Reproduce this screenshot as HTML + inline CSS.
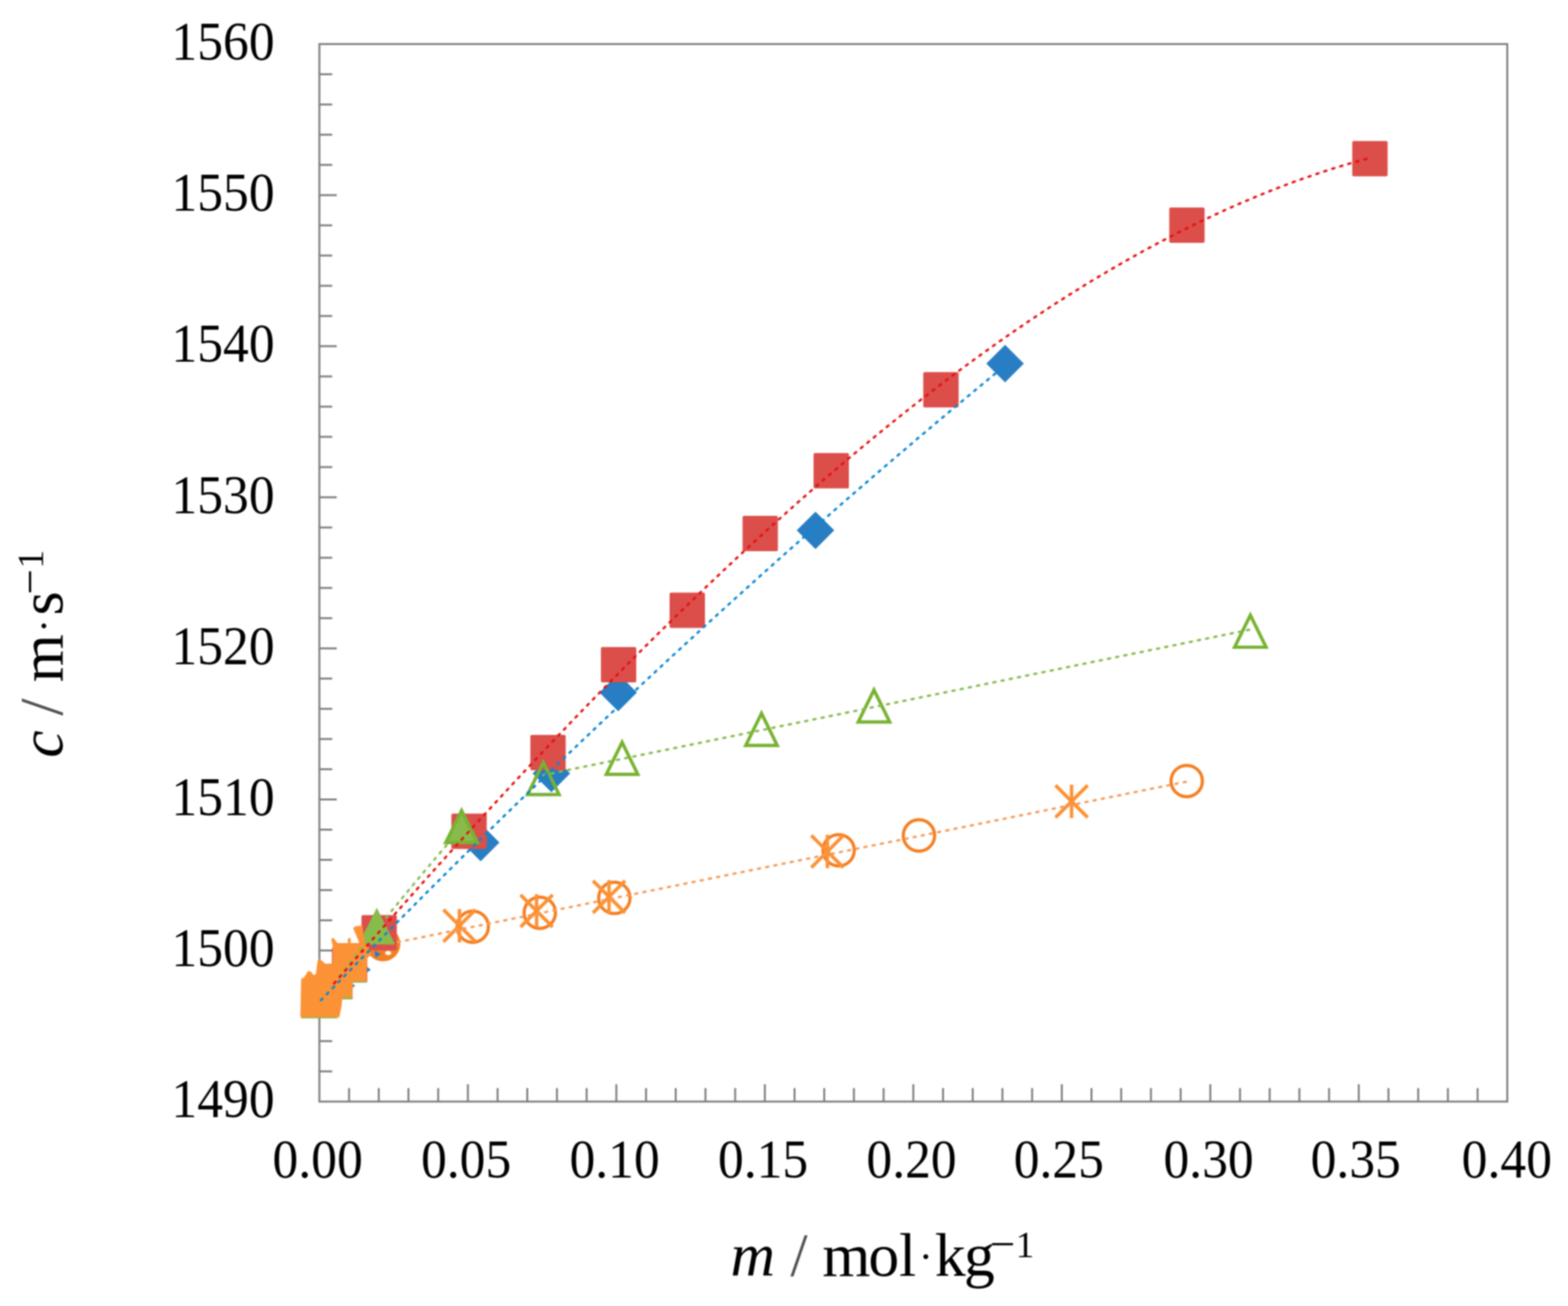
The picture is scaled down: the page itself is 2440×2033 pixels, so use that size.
<!DOCTYPE html>
<html><head><meta charset="utf-8"><style>
html,body{margin:0;padding:0;background:#fff;overflow:hidden;}
svg{display:block;filter:blur(0.8px);}
.lab{font-family:"Liberation Serif","Times New Roman",serif;font-size:84px;fill:#000;}
.tit{font-family:"Liberation Serif","Times New Roman",serif;font-size:96px;fill:#000;}
</style></head><body>
<svg width="2440" height="2033" viewBox="0 0 2440 2033">
<rect x="497.0" y="68.6" width="1848.5" height="1646.2" fill="none" stroke="#7e7e7e" stroke-width="3"/>
<line x1="497.0" y1="1667.8" x2="517.0" y2="1667.8" stroke="#7e7e7e" stroke-width="3"/>
<line x1="497.0" y1="1620.7" x2="517.0" y2="1620.7" stroke="#7e7e7e" stroke-width="3"/>
<line x1="497.0" y1="1573.7" x2="517.0" y2="1573.7" stroke="#7e7e7e" stroke-width="3"/>
<line x1="497.0" y1="1526.7" x2="517.0" y2="1526.7" stroke="#7e7e7e" stroke-width="3"/>
<line x1="497.0" y1="1479.6" x2="524.0" y2="1479.6" stroke="#7e7e7e" stroke-width="3"/>
<line x1="497.0" y1="1432.6" x2="517.0" y2="1432.6" stroke="#7e7e7e" stroke-width="3"/>
<line x1="497.0" y1="1385.6" x2="517.0" y2="1385.6" stroke="#7e7e7e" stroke-width="3"/>
<line x1="497.0" y1="1338.5" x2="517.0" y2="1338.5" stroke="#7e7e7e" stroke-width="3"/>
<line x1="497.0" y1="1291.5" x2="517.0" y2="1291.5" stroke="#7e7e7e" stroke-width="3"/>
<line x1="497.0" y1="1244.5" x2="524.0" y2="1244.5" stroke="#7e7e7e" stroke-width="3"/>
<line x1="497.0" y1="1197.4" x2="517.0" y2="1197.4" stroke="#7e7e7e" stroke-width="3"/>
<line x1="497.0" y1="1150.4" x2="517.0" y2="1150.4" stroke="#7e7e7e" stroke-width="3"/>
<line x1="497.0" y1="1103.4" x2="517.0" y2="1103.4" stroke="#7e7e7e" stroke-width="3"/>
<line x1="497.0" y1="1056.3" x2="517.0" y2="1056.3" stroke="#7e7e7e" stroke-width="3"/>
<line x1="497.0" y1="1009.3" x2="524.0" y2="1009.3" stroke="#7e7e7e" stroke-width="3"/>
<line x1="497.0" y1="962.3" x2="517.0" y2="962.3" stroke="#7e7e7e" stroke-width="3"/>
<line x1="497.0" y1="915.2" x2="517.0" y2="915.2" stroke="#7e7e7e" stroke-width="3"/>
<line x1="497.0" y1="868.2" x2="517.0" y2="868.2" stroke="#7e7e7e" stroke-width="3"/>
<line x1="497.0" y1="821.1" x2="517.0" y2="821.1" stroke="#7e7e7e" stroke-width="3"/>
<line x1="497.0" y1="774.1" x2="524.0" y2="774.1" stroke="#7e7e7e" stroke-width="3"/>
<line x1="497.0" y1="727.1" x2="517.0" y2="727.1" stroke="#7e7e7e" stroke-width="3"/>
<line x1="497.0" y1="680.0" x2="517.0" y2="680.0" stroke="#7e7e7e" stroke-width="3"/>
<line x1="497.0" y1="633.0" x2="517.0" y2="633.0" stroke="#7e7e7e" stroke-width="3"/>
<line x1="497.0" y1="586.0" x2="517.0" y2="586.0" stroke="#7e7e7e" stroke-width="3"/>
<line x1="497.0" y1="538.9" x2="524.0" y2="538.9" stroke="#7e7e7e" stroke-width="3"/>
<line x1="497.0" y1="491.9" x2="517.0" y2="491.9" stroke="#7e7e7e" stroke-width="3"/>
<line x1="497.0" y1="444.9" x2="517.0" y2="444.9" stroke="#7e7e7e" stroke-width="3"/>
<line x1="497.0" y1="397.8" x2="517.0" y2="397.8" stroke="#7e7e7e" stroke-width="3"/>
<line x1="497.0" y1="350.8" x2="517.0" y2="350.8" stroke="#7e7e7e" stroke-width="3"/>
<line x1="497.0" y1="303.8" x2="524.0" y2="303.8" stroke="#7e7e7e" stroke-width="3"/>
<line x1="497.0" y1="256.7" x2="517.0" y2="256.7" stroke="#7e7e7e" stroke-width="3"/>
<line x1="497.0" y1="209.7" x2="517.0" y2="209.7" stroke="#7e7e7e" stroke-width="3"/>
<line x1="497.0" y1="162.7" x2="517.0" y2="162.7" stroke="#7e7e7e" stroke-width="3"/>
<line x1="497.0" y1="115.6" x2="517.0" y2="115.6" stroke="#7e7e7e" stroke-width="3"/>
<line x1="543.2" y1="1714.8" x2="543.2" y2="1693.8" stroke="#7e7e7e" stroke-width="3"/>
<line x1="589.4" y1="1714.8" x2="589.4" y2="1693.8" stroke="#7e7e7e" stroke-width="3"/>
<line x1="635.6" y1="1714.8" x2="635.6" y2="1693.8" stroke="#7e7e7e" stroke-width="3"/>
<line x1="681.9" y1="1714.8" x2="681.9" y2="1693.8" stroke="#7e7e7e" stroke-width="3"/>
<line x1="728.1" y1="1714.8" x2="728.1" y2="1687.8" stroke="#7e7e7e" stroke-width="3"/>
<line x1="774.3" y1="1714.8" x2="774.3" y2="1693.8" stroke="#7e7e7e" stroke-width="3"/>
<line x1="820.5" y1="1714.8" x2="820.5" y2="1693.8" stroke="#7e7e7e" stroke-width="3"/>
<line x1="866.7" y1="1714.8" x2="866.7" y2="1693.8" stroke="#7e7e7e" stroke-width="3"/>
<line x1="912.9" y1="1714.8" x2="912.9" y2="1693.8" stroke="#7e7e7e" stroke-width="3"/>
<line x1="959.1" y1="1714.8" x2="959.1" y2="1687.8" stroke="#7e7e7e" stroke-width="3"/>
<line x1="1005.3" y1="1714.8" x2="1005.3" y2="1693.8" stroke="#7e7e7e" stroke-width="3"/>
<line x1="1051.5" y1="1714.8" x2="1051.5" y2="1693.8" stroke="#7e7e7e" stroke-width="3"/>
<line x1="1097.8" y1="1714.8" x2="1097.8" y2="1693.8" stroke="#7e7e7e" stroke-width="3"/>
<line x1="1144.0" y1="1714.8" x2="1144.0" y2="1693.8" stroke="#7e7e7e" stroke-width="3"/>
<line x1="1190.2" y1="1714.8" x2="1190.2" y2="1687.8" stroke="#7e7e7e" stroke-width="3"/>
<line x1="1236.4" y1="1714.8" x2="1236.4" y2="1693.8" stroke="#7e7e7e" stroke-width="3"/>
<line x1="1282.6" y1="1714.8" x2="1282.6" y2="1693.8" stroke="#7e7e7e" stroke-width="3"/>
<line x1="1328.8" y1="1714.8" x2="1328.8" y2="1693.8" stroke="#7e7e7e" stroke-width="3"/>
<line x1="1375.0" y1="1714.8" x2="1375.0" y2="1693.8" stroke="#7e7e7e" stroke-width="3"/>
<line x1="1421.2" y1="1714.8" x2="1421.2" y2="1687.8" stroke="#7e7e7e" stroke-width="3"/>
<line x1="1467.5" y1="1714.8" x2="1467.5" y2="1693.8" stroke="#7e7e7e" stroke-width="3"/>
<line x1="1513.7" y1="1714.8" x2="1513.7" y2="1693.8" stroke="#7e7e7e" stroke-width="3"/>
<line x1="1559.9" y1="1714.8" x2="1559.9" y2="1693.8" stroke="#7e7e7e" stroke-width="3"/>
<line x1="1606.1" y1="1714.8" x2="1606.1" y2="1693.8" stroke="#7e7e7e" stroke-width="3"/>
<line x1="1652.3" y1="1714.8" x2="1652.3" y2="1687.8" stroke="#7e7e7e" stroke-width="3"/>
<line x1="1698.5" y1="1714.8" x2="1698.5" y2="1693.8" stroke="#7e7e7e" stroke-width="3"/>
<line x1="1744.7" y1="1714.8" x2="1744.7" y2="1693.8" stroke="#7e7e7e" stroke-width="3"/>
<line x1="1791.0" y1="1714.8" x2="1791.0" y2="1693.8" stroke="#7e7e7e" stroke-width="3"/>
<line x1="1837.2" y1="1714.8" x2="1837.2" y2="1693.8" stroke="#7e7e7e" stroke-width="3"/>
<line x1="1883.4" y1="1714.8" x2="1883.4" y2="1687.8" stroke="#7e7e7e" stroke-width="3"/>
<line x1="1929.6" y1="1714.8" x2="1929.6" y2="1693.8" stroke="#7e7e7e" stroke-width="3"/>
<line x1="1975.8" y1="1714.8" x2="1975.8" y2="1693.8" stroke="#7e7e7e" stroke-width="3"/>
<line x1="2022.0" y1="1714.8" x2="2022.0" y2="1693.8" stroke="#7e7e7e" stroke-width="3"/>
<line x1="2068.2" y1="1714.8" x2="2068.2" y2="1693.8" stroke="#7e7e7e" stroke-width="3"/>
<line x1="2114.4" y1="1714.8" x2="2114.4" y2="1687.8" stroke="#7e7e7e" stroke-width="3"/>
<line x1="2160.6" y1="1714.8" x2="2160.6" y2="1693.8" stroke="#7e7e7e" stroke-width="3"/>
<line x1="2206.9" y1="1714.8" x2="2206.9" y2="1693.8" stroke="#7e7e7e" stroke-width="3"/>
<line x1="2253.1" y1="1714.8" x2="2253.1" y2="1693.8" stroke="#7e7e7e" stroke-width="3"/>
<line x1="2299.3" y1="1714.8" x2="2299.3" y2="1693.8" stroke="#7e7e7e" stroke-width="3"/>
<text transform="translate(427.3,1739.3) scale(0.955,1)" text-anchor="end" class="lab">1490</text>
<text transform="translate(427.3,1504.1) scale(0.955,1)" text-anchor="end" class="lab">1500</text>
<text transform="translate(427.3,1269.0) scale(0.955,1)" text-anchor="end" class="lab">1510</text>
<text transform="translate(427.3,1033.8) scale(0.955,1)" text-anchor="end" class="lab">1520</text>
<text transform="translate(427.3,798.6) scale(0.955,1)" text-anchor="end" class="lab">1530</text>
<text transform="translate(427.3,563.4) scale(0.955,1)" text-anchor="end" class="lab">1540</text>
<text transform="translate(427.3,328.3) scale(0.955,1)" text-anchor="end" class="lab">1550</text>
<text transform="translate(427.3,93.1) scale(0.955,1)" text-anchor="end" class="lab">1560</text>
<text transform="translate(494.3,1833) scale(0.955,1)" text-anchor="middle" class="lab">0.00</text>
<text transform="translate(725.4,1833) scale(0.955,1)" text-anchor="middle" class="lab">0.05</text>
<text transform="translate(956.4,1833) scale(0.955,1)" text-anchor="middle" class="lab">0.10</text>
<text transform="translate(1187.5,1833) scale(0.955,1)" text-anchor="middle" class="lab">0.15</text>
<text transform="translate(1418.5,1833) scale(0.955,1)" text-anchor="middle" class="lab">0.20</text>
<text transform="translate(1647.6,1833) scale(0.955,1)" text-anchor="middle" class="lab">0.25</text>
<text transform="translate(1880.7,1833) scale(0.955,1)" text-anchor="middle" class="lab">0.30</text>
<text transform="translate(2109.7,1833) scale(0.955,1)" text-anchor="middle" class="lab">0.35</text>
<text transform="translate(2344.8,1833) scale(0.955,1)" text-anchor="middle" class="lab">0.40</text>
<polygon points="1564.0,536.8 1593.2,566.0 1564.0,595.2 1534.8,566.0" fill="#287dc3"/>
<polygon points="1269.0,796.4 1298.2,825.6 1269.0,854.8 1239.8,825.6" fill="#287dc3"/>
<polygon points="962.0,1048.8 991.2,1078.0 962.0,1107.2 932.8,1078.0" fill="#287dc3"/>
<polygon points="858.0,1174.8 887.2,1204.0 858.0,1233.2 828.8,1204.0" fill="#287dc3"/>
<polygon points="748.0,1282.3 777.2,1311.5 748.0,1340.7 718.8,1311.5" fill="#287dc3"/>
<polygon points="571,1505 577,1509.5 571,1514" fill="#287dc3"/>
<polygon points="546,1531 553,1534 546,1540" fill="#287dc3"/>
<circle cx="596" cy="1469.5" r="27" fill="#f47f22"/>
<ellipse cx="604" cy="1483.5" rx="4.5" ry="3.2" fill="#fff"/>
<polygon points="583,1480 593,1485 584,1491" fill="#287dc3"/>
<circle cx="1846.7" cy="1215.8" r="24.4" fill="none" stroke="#f47f22" stroke-width="5"/>
<circle cx="1430.0" cy="1300.5" r="24.4" fill="none" stroke="#f47f22" stroke-width="5"/>
<circle cx="1305.0" cy="1323.6" r="24.4" fill="none" stroke="#f47f22" stroke-width="5"/>
<circle cx="956.0" cy="1397.7" r="24.4" fill="none" stroke="#f47f22" stroke-width="5"/>
<circle cx="840.0" cy="1420.8" r="24.4" fill="none" stroke="#f47f22" stroke-width="5"/>
<circle cx="735.6" cy="1442.6" r="24.4" fill="none" stroke="#f47f22" stroke-width="5"/>
<rect x="2104.3" y="219.4" width="55" height="55" rx="2.5" fill="#db4e4a"/>
<rect x="1819.5" y="323.1" width="55" height="55" rx="2.5" fill="#db4e4a"/>
<rect x="1436.7" y="579.2" width="55" height="55" rx="2.5" fill="#db4e4a"/>
<rect x="1266.0" y="705.3" width="55" height="55" rx="2.5" fill="#db4e4a"/>
<rect x="1155.5" y="803.0" width="55" height="55" rx="2.5" fill="#db4e4a"/>
<rect x="1042.0" y="922.5" width="55" height="55" rx="2.5" fill="#db4e4a"/>
<rect x="935.1" y="1007.3" width="55" height="55" rx="2.5" fill="#db4e4a"/>
<rect x="825.3" y="1143.9" width="55" height="55" rx="2.5" fill="#db4e4a"/>
<rect x="702.4" y="1266.5" width="55" height="55" rx="2.5" fill="#db4e4a"/>
<rect x="562.5" y="1424.5" width="55" height="55" rx="2.5" fill="#db4e4a"/>
<rect x="516.5" y="1474.5" width="55" height="55" rx="2.5" fill="#db4e4a"/>
<rect x="493.5" y="1500.5" width="55" height="55" rx="2.5" fill="#db4e4a"/>
<rect x="469.5" y="1528.5" width="55" height="55" rx="2.5" fill="#db4e4a"/>
<polygon points="718.3,1256.8 747.0,1314.1 689.6,1314.1" fill="#88bb4a"/>
<polygon points="586.3,1413.0 615.0,1470.3 557.6,1470.3" fill="#88bb4a"/>
<polygon points="543.0,1472.0 571.7,1529.3 514.3,1529.3" fill="#88bb4a"/>
<polygon points="521.0,1498.0 549.7,1555.3 492.3,1555.3" fill="#88bb4a"/>
<polygon points="497.0,1528.0 525.7,1585.3 468.3,1585.3" fill="#88bb4a"/>
<polygon points="1945.7,957.7 1970.2,1007.5 1921.2,1007.5" fill="none" stroke="#78b232" stroke-width="5.2" stroke-linejoin="miter" stroke-miterlimit="10"/>
<polygon points="1360.0,1074.0 1384.5,1123.8 1335.5,1123.8" fill="none" stroke="#78b232" stroke-width="5.2" stroke-linejoin="miter" stroke-miterlimit="10"/>
<polygon points="1185.0,1110.5 1209.5,1160.3 1160.5,1160.3" fill="none" stroke="#78b232" stroke-width="5.2" stroke-linejoin="miter" stroke-miterlimit="10"/>
<polygon points="968.0,1155.5 992.5,1205.3 943.5,1205.3" fill="none" stroke="#78b232" stroke-width="5.2" stroke-linejoin="miter" stroke-miterlimit="10"/>
<polygon points="845.5,1187.0 870.0,1236.8 821.0,1236.8" fill="none" stroke="#78b232" stroke-width="5.2" stroke-linejoin="miter" stroke-miterlimit="10"/>
<polygon points="718.3,1261.8 742.8,1311.6 693.8,1311.6" fill="none" stroke="#78b232" stroke-width="5.2" stroke-linejoin="miter" stroke-miterlimit="10"/>
<polygon points="467.4,1583.4 528.0,1583.4 531.4,1566.9 532.6,1554.3 533.7,1552.5 547.4,1552.5 548.6,1544.0 549.7,1527.5 570.3,1527.5 571.4,1491.4 578.0,1486.0 566.0,1458.0 564.0,1441.0 553.1,1441.7 549.5,1445.0 558.6,1466.0 558.6,1468.0 545.7,1468.0 545.7,1460.5 541.4,1460.5 541.4,1468.0 525.0,1468.0 518.5,1459.5 515.5,1462.0 517.6,1472.0 517.6,1500.0 506.3,1500.6 501.7,1496.0 497.1,1492.5 494.0,1496.0 493.7,1500.6 491.4,1516.6 488.0,1517.7 483.4,1512.0 478.9,1512.0 473.0,1522.0 468.6,1523.4" fill="#fc9236"/>
<path d="M1642.5,1222.5L1692.5,1272.5M1642.5,1272.5L1692.5,1222.5M1667.5,1221.5L1667.5,1273.5" stroke="#fc9236" stroke-width="5.4" fill="none"/>
<path d="M1262.5,1300.5L1312.5,1350.5M1262.5,1350.5L1312.5,1300.5M1287.5,1299.5L1287.5,1351.5" stroke="#fc9236" stroke-width="5.4" fill="none"/>
<path d="M922.7,1371.0L972.7,1421.0M922.7,1421.0L972.7,1371.0M947.7,1370.0L947.7,1422.0" stroke="#fc9236" stroke-width="5.4" fill="none"/>
<path d="M810.0,1393.0L860.0,1443.0M810.0,1443.0L860.0,1393.0M835.0,1392.0L835.0,1444.0" stroke="#fc9236" stroke-width="5.4" fill="none"/>
<path d="M690.0,1416.0L740.0,1466.0M690.0,1466.0L740.0,1416.0M715.0,1415.0L715.0,1467.0" stroke="#fc9236" stroke-width="5.4" fill="none"/>
<path d="M528.0,1519.6 L534.6,1511.2 L541.1,1502.9 L547.7,1494.6 L554.2,1486.4 L560.8,1478.1 L567.4,1469.9 L573.9,1461.8 L580.5,1453.6 L587.1,1445.5 L593.6,1437.4 L600.2,1429.3 L606.7,1421.3 L613.3,1413.2 L619.9,1405.3 L626.4,1397.3 L633.0,1389.3 L639.6,1381.4 L646.1,1373.5 L652.7,1365.7 L659.2,1357.8 L665.8,1350.0 L672.4,1342.3 L678.9,1334.5 L685.5,1326.8 L692.1,1319.1 L698.6,1311.4 L705.2,1303.7 L711.7,1296.1 L718.3,1288.5" fill="none" stroke="#84bc4e" stroke-width="3.6" stroke-dasharray="3.4 9.6" stroke-linecap="round" stroke-opacity="1"/>
<path d="M845.5,1206.6 L967.7,1181.4 L1090.0,1156.2 L1212.2,1131.0 L1334.5,1105.9 L1456.7,1080.7 L1579.0,1055.5 L1701.2,1030.3 L1823.5,1005.2 L1945.7,980.0" fill="none" stroke="#84bc4e" stroke-width="3.6" stroke-dasharray="3.4 9.6" stroke-linecap="round" stroke-opacity="1"/>
<path d="M619.0,1466.6 L755.4,1438.8 L891.8,1411.1 L1028.2,1383.3 L1164.6,1355.5 L1301.1,1327.7 L1437.5,1300.0 L1573.9,1272.2 L1710.3,1244.4 L1846.7,1216.7" fill="none" stroke="#f59c5a" stroke-width="3.6" stroke-dasharray="3.4 9.6" stroke-linecap="round" stroke-opacity="1"/>
<path d="M520.0,1530.8 L540.4,1507.3 L560.8,1483.9 L581.2,1460.6 L601.6,1437.5 L622.0,1414.4 L642.4,1391.4 L662.8,1368.5 L683.2,1345.8 L703.6,1323.2 L724.0,1300.7 L744.4,1278.3 L764.8,1256.1 L785.2,1234.0 L805.6,1212.0 L826.0,1190.2 L846.4,1168.5 L866.8,1147.0 L887.2,1125.6 L907.6,1104.4 L928.1,1083.3 L948.5,1062.4 L968.9,1041.7 L989.3,1021.1 L1009.7,1000.7 L1030.1,980.5 L1050.5,960.4 L1070.9,940.6 L1091.3,920.9 L1111.7,901.4 L1132.1,882.1 L1152.5,863.0 L1172.9,844.1 L1193.3,825.5 L1213.7,807.0 L1234.1,788.7 L1254.5,770.6 L1274.9,752.8 L1295.3,735.2 L1315.7,717.8 L1336.1,700.6 L1356.5,683.7 L1376.9,667.0 L1397.3,650.5 L1417.7,634.3 L1438.1,618.3 L1458.5,602.6 L1478.9,587.1 L1499.3,571.9 L1519.7,557.0 L1540.1,542.3 L1560.5,527.8 L1580.9,513.7 L1601.3,499.8 L1621.7,486.2 L1642.1,472.8 L1662.5,459.8 L1682.9,447.0 L1703.3,434.5 L1723.7,422.4 L1744.2,410.5 L1764.6,398.9 L1785.0,387.6 L1805.4,376.7 L1825.8,366.0 L1846.2,355.6 L1866.6,345.6 L1887.0,335.9 L1907.4,326.5 L1927.8,317.5 L1948.2,308.8 L1968.6,300.4 L1989.0,292.3 L2009.4,284.6 L2029.8,277.3 L2050.2,270.3 L2070.6,263.6 L2091.0,257.3 L2111.4,251.4 L2131.8,245.8" fill="none" stroke="#e81010" stroke-width="3.6" stroke-dasharray="3.4 9.6" stroke-linecap="round" stroke-opacity="1"/>
<path d="M499.4,1557.0 L512.9,1543.1 L526.4,1529.2 L539.8,1515.4 L553.3,1501.5 L566.8,1487.8 L580.3,1474.0 L593.7,1460.3 L607.2,1446.6 L620.7,1433.0 L634.2,1419.4 L647.6,1405.9 L661.1,1392.3 L674.6,1378.8 L688.1,1365.4 L701.5,1352.0 L715.0,1338.6 L728.5,1325.3 L742.0,1311.9 L755.4,1298.7 L768.9,1285.4 L782.4,1272.2 L795.9,1259.1 L809.3,1246.0 L822.8,1232.9 L836.3,1219.8 L849.8,1206.8 L863.3,1193.8 L876.7,1180.9 L890.2,1168.0 L903.7,1155.1 L917.2,1142.3 L930.6,1129.5 L944.1,1116.7 L957.6,1104.0 L971.1,1091.3 L984.5,1078.6 L998.0,1066.0 L1011.5,1053.5 L1025.0,1040.9 L1038.4,1028.4 L1051.9,1015.9 L1065.4,1003.5 L1078.9,991.1 L1092.3,978.7 L1105.8,966.4 L1119.3,954.1 L1132.8,941.9 L1146.2,929.7 L1159.7,917.5 L1173.2,905.3 L1186.7,893.2 L1200.1,881.2 L1213.6,869.1 L1227.1,857.1 L1240.6,845.2 L1254.1,833.2 L1267.5,821.4 L1281.0,809.5 L1294.5,797.7 L1308.0,785.9 L1321.4,774.2 L1334.9,762.5 L1348.4,750.8 L1361.9,739.1 L1375.3,727.5 L1388.8,716.0 L1402.3,704.5 L1415.8,693.0 L1429.2,681.5 L1442.7,670.1 L1456.2,658.7 L1469.7,647.4 L1483.1,636.1 L1496.6,624.8 L1510.1,613.6 L1523.6,602.4 L1537.0,591.2 L1550.5,580.1 L1564.0,569.0" fill="none" stroke="#0a88d4" stroke-width="3.6" stroke-dasharray="3.4 9.6" stroke-linecap="round" stroke-opacity="1"/>
<text class="tit" transform="translate(97,0) rotate(-90)"><tspan x="-1179.5" font-style="italic">c</tspan><tspan x="-1114" fill="#505050">/</tspan><tspan x="-1062">m</tspan><tspan x="-985" y="-8.5" style="font-size:64px">·</tspan><tspan y="0"></tspan><tspan x="-958" y="0">s</tspan><tspan x="-925.5" y="-27" style="font-size:70px">−</tspan><tspan x="-885.1" y="-30" style="font-size:58px">1</tspan></text>
<text class="tit" y="1986"><tspan x="1136.7" font-style="italic">m</tspan><tspan x="1230" fill="#505050">/</tspan><tspan x="1279.8">m</tspan><tspan x="1351.2">o</tspan><tspan x="1399.1" y="1986">l</tspan><tspan x="1429.9" y="1976.5" style="font-size:64px">·</tspan><tspan y="1986"></tspan><tspan x="1454.8" y="1986">k</tspan><tspan x="1500">g</tspan><tspan x="1540.3" y="1960" style="font-size:70px">−</tspan><tspan x="1580.4" y="1957" style="font-size:58px">1</tspan></text>
</svg>
</body></html>
